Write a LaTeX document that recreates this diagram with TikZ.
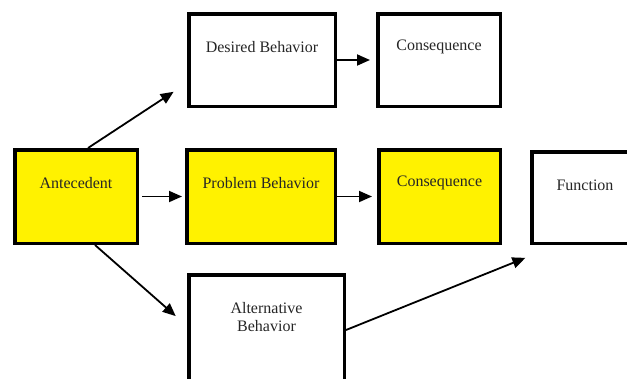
\documentclass[tikz,border=0pt]{standalone}
\usepackage{fontspec}
\setmainfont{Liberation Serif}
\usetikzlibrary{arrows.meta}
\begin{document}
\begin{tikzpicture}[x=1pt,y=-1pt,
  box/.style={draw=black, line width=3.5pt, rectangle, anchor=north west, inner sep=0pt},
  yel/.style={fill=yellow},
  lab/.style={anchor=center, yshift=-35pt, font=\rmfamily\fontsize{16pt}{18pt}\selectfont, text=black!85, align=center},
  arr/.style={-{Triangle[length=13pt,width=11pt]}, line width=1.8pt}]
\clip (0,0) rectangle (627,378);
\fill[white] (0,0) rectangle (627,378);
% boxes (outer edges)
\node[box, minimum width=146.5pt, minimum height=92.5pt, label={[lab]north:Desired Behavior}] (desired) at (187,12) {};
\node[box, minimum width=122.5pt, minimum height=92.5pt, label={[lab]north:Consequence}] (cons1) at (376,12) {};
\node[box, yel, minimum width=122.5pt, minimum height=93.5pt, label={[lab]north:Antecedent}] (ante) at (13,148) {};
\node[box, yel, minimum width=148.5pt, minimum height=93.5pt, label={[lab]north:Problem Behavior}] (prob) at (185,148) {};
\node[box, yel, minimum width=121.5pt, minimum height=93.5pt, label={[lab]north:Consequence}] (cons2) at (377,148) {};
\node[box, minimum width=106.5pt, minimum height=91.5pt, label={[lab]north:Function}] (func) at (530,150) {};
\node[box, minimum width=155.5pt, minimum height=130pt, label={[lab, yshift=-9pt]north:Alternative\\Behavior}] (alt) at (187,273) {};
% connectors
\draw[arr, shorten >=6pt] (desired.east) -- (cons1.west);
\draw[arr, shorten <=3pt, shorten >=3pt] (ante.east) -- (prob.west);
\draw[arr, shorten >=5pt] (prob.east) -- (cons2.west);
\draw[arr, shorten >=16pt] ([xshift=12pt]ante.north) -- ([yshift=-23pt]desired.west);
\draw[arr, shorten >=15pt] ([xshift=19pt]ante.south) -- ([yshift=-53pt]alt.north west);
\draw[arr, shorten >=5pt] ([yshift=-57pt]alt.north east) -- ([yshift=-11pt]func.south west);
\end{tikzpicture}
\end{document}
